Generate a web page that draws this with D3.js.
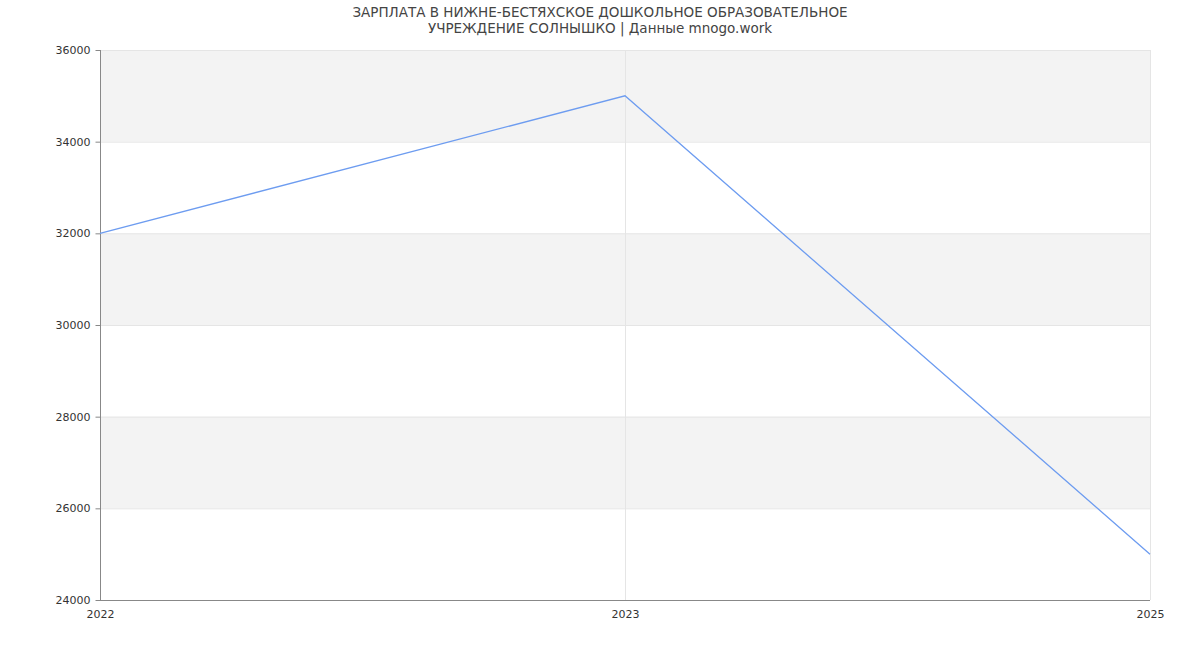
<!DOCTYPE html>
<html>
<head>
<meta charset="utf-8">
<script src="https://cdn.jsdelivr.net/npm/d3@7"></script>
<style>
  body { margin: 0; background: #fff; }
  text { font-family: "DejaVu Sans", sans-serif; }
</style>
</head>
<body>
<div id="chart"></div>
<script>
// chart data
var years = ["2022", "2023", "2025"];
var salary = [32000, 35000, 25000];
var yTicks = [24000, 26000, 28000, 30000, 32000, 34000, 36000];
var titleLines = ["ЗАРПЛАТА В НИЖНЕ-БЕСТЯХСКОЕ ДОШКОЛЬНОЕ ОБРАЗОВАТЕЛЬНОЕ",
                  "УЧРЕЖДЕНИЕ СОЛНЫШКО | Данные mnogo.work"];

var W = 1200, H = 650,
    margin = { top: 50, right: 50, bottom: 50, left: 100 },
    width = W - margin.left - margin.right,
    height = H - margin.top - margin.bottom;

var svg = d3.select("#chart").append("svg")
    .attr("width", W).attr("height", H);

// title
svg.append("text")
    .attr("x", W / 2).attr("y", 17)
    .attr("text-anchor", "middle")
    .style("font-size", "13.5px").style("fill", "#444")
    .selectAll("tspan").data(titleLines).enter().append("tspan")
    .attr("x", W / 2).attr("dy", function(d, i) { return i ? 16 : 0; })
    .text(function(d) { return d; });

var g = svg.append("g")
    .attr("transform", "translate(" + margin.left + "," + margin.top + ")");

var x = d3.scalePoint().domain(years).range([0, width]);
var y = d3.scaleLinear().domain([24000, 36000]).range([height, 0]);

// alternating bands
var bands = d3.range(1, yTicks.length - 1, 2).map(function(i) { return [yTicks[i], yTicks[i + 1]]; });
g.selectAll("rect.band").data(bands).enter().append("rect")
    .attr("class", "band")
    .attr("x", 0).attr("width", width)
    .attr("y", function(d) { return y(d[1]); })
    .attr("height", function(d) { return y(d[0]) - y(d[1]); })
    .attr("fill", "#f3f3f3");

// horizontal grid
g.selectAll("line.hgrid").data(yTicks.slice(1)).enter().append("line")
    .attr("x1", 0).attr("x2", width)
    .attr("y1", function(d) { return y(d) + 0.5; })
    .attr("y2", function(d) { return y(d) + 0.5; })
    .attr("stroke", "#e5e5e5");

// vertical grid
g.selectAll("line.vgrid").data(years.slice(1)).enter().append("line")
    .attr("x1", function(d) { return x(d) + 0.5; })
    .attr("x2", function(d) { return x(d) + 0.5; })
    .attr("y1", 0).attr("y2", height)
    .attr("stroke", "#e5e5e5");

// y axis
var yAxis = g.append("g")
    .attr("transform", "translate(0.5,0)")
    .call(d3.axisLeft(y).tickValues(yTicks).tickSize(5).tickPadding(5).tickFormat(d3.format("d")));
yAxis.select(".domain").attr("stroke", "#888").attr("d", "M0,0V" + height);
yAxis.selectAll(".tick line").attr("stroke", "#888");
yAxis.selectAll(".tick text").style("font-size", "11px").attr("fill", "#333");

// x axis
var xAxis = g.append("g")
    .attr("transform", "translate(0," + (height + 0.5) + ")")
    .call(d3.axisBottom(x).tickSize(0).tickPadding(10));
xAxis.select(".domain").attr("stroke", "#888").attr("d", "M0,0H" + width);
xAxis.selectAll(".tick text").style("font-size", "11px").attr("fill", "#333");

// line
var line = d3.line()
    .x(function(d, i) { return x(years[i]); })
    .y(function(d) { return y(d); });
g.append("path").datum(salary)
    .attr("d", line)
    .attr("fill", "none")
    .attr("stroke", "#6d9cf0")
    .attr("stroke-width", 1.3);
</script>
</body>
</html>
